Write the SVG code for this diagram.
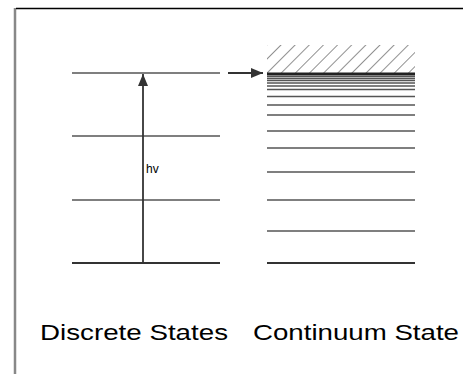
<svg xmlns="http://www.w3.org/2000/svg" width="463" height="374" viewBox="0 0 463 374">
<defs>
<style>
.lvl{stroke:#555;stroke-width:1.5;fill:none}
.lvlb{stroke:#333;stroke-width:2;fill:none}
.lbl{font-family:"Liberation Sans",Arial,sans-serif;fill:#000}
</style>
<marker id="ah" viewBox="0 0 12 10" refX="12" refY="5" markerWidth="13" markerHeight="10" markerUnits="userSpaceOnUse" orient="auto">
<path d="M0,0 L12,5 L0,10 z" fill="#333"/>
</marker>
<pattern id="hatch" patternUnits="userSpaceOnUse" width="10" height="10" patternTransform="rotate(45)">
<line x1="0" y1="0" x2="0" y2="10" stroke="#555" stroke-width="1.3"/>
</pattern>
<clipPath id="hc"><rect x="267" y="45" width="148" height="28"/></clipPath>
</defs>
<rect width="463" height="374" fill="#fff"/>
<g id="frame">
<line x1="15" y1="8" x2="15" y2="374" stroke="#888" stroke-width="2.5"/>
<line x1="16" y1="8.5" x2="463" y2="8.5" stroke="#000" stroke-width="1.5"/>
</g>
<g id="discrete">
<line class="lvl" x1="72" y1="73" x2="220" y2="73"/>
<line class="lvl" x1="72" y1="136" x2="220" y2="136"/>
<line class="lvl" x1="72" y1="200" x2="220" y2="200"/>
<line class="lvlb" x1="72" y1="263" x2="220" y2="263"/>
</g>
<g id="continuum">
<rect x="267" y="45" width="148" height="28" fill="url(#hatch)" clip-path="url(#hc)"/>
<line stroke="#222" stroke-width="3" x1="267" y1="74" x2="415" y2="74"/>
<g class="lvl">
<line x1="267" y1="76.5" x2="415" y2="76.5"/>
<line x1="267" y1="78.5" x2="415" y2="78.5"/>
<line x1="267" y1="80.5" x2="415" y2="80.5"/>
<line x1="267" y1="83" x2="415" y2="83"/>
<line x1="267" y1="86" x2="415" y2="86"/>
<line x1="267" y1="89.5" x2="415" y2="89.5"/>
<line x1="267" y1="96.5" x2="415" y2="96.5"/>
<line x1="267" y1="105" x2="415" y2="105"/>
<line x1="267" y1="115" x2="415" y2="115"/>
<line x1="267" y1="131" x2="415" y2="131"/>
<line x1="267" y1="148" x2="415" y2="148"/>
<line x1="267" y1="172" x2="415" y2="172"/>
<line x1="267" y1="200" x2="415" y2="200"/>
<line x1="267" y1="231" x2="415" y2="231"/>
</g>
<line class="lvlb" x1="267" y1="263" x2="415" y2="263"/>
</g>
<g id="connectors">
<line x1="143" y1="263" x2="143" y2="74" stroke="#333" stroke-width="1.8" marker-end="url(#ah)"/>
<line x1="228" y1="73" x2="263" y2="73" stroke="#333" stroke-width="1.8" marker-end="url(#ah)"/>
</g>
<g id="labels">
<text class="lbl" x="146" y="173" font-size="12">hv</text>
<text class="lbl" x="40" y="340" font-size="22" textLength="188" lengthAdjust="spacingAndGlyphs">Discrete States</text>
<text class="lbl" x="253" y="340" font-size="22" textLength="206" lengthAdjust="spacingAndGlyphs">Continuum State</text>
</g>
</svg>
